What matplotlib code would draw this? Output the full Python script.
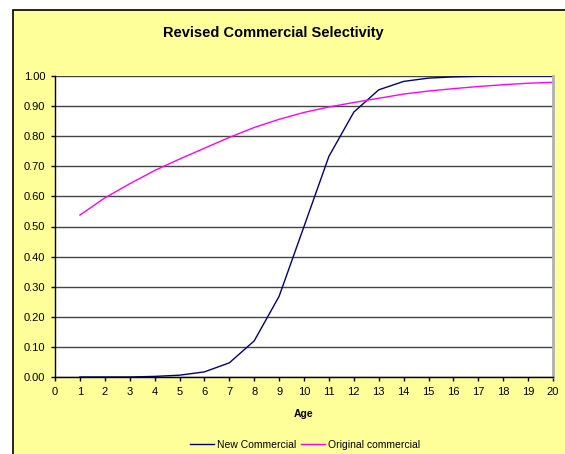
import matplotlib
matplotlib.use("Agg")
import matplotlib.pyplot as plt
from matplotlib.patches import Rectangle

plt.rcParams['font.family'] = ['Liberation Sans', 'DejaVu Sans']

ages = list(range(1, 21))
new_commercial = [0.0, 0.0, 0.0, 0.002, 0.006, 0.017, 0.047, 0.120, 0.268, 0.500,
                  0.733, 0.880, 0.954, 0.982, 0.993, 0.997, 0.999, 1.0, 1.0, 1.0]
original_commercial = [0.538, 0.595, 0.642, 0.686, 0.724, 0.760, 0.796, 0.829, 0.856, 0.879,
                       0.897, 0.912, 0.926, 0.940, 0.950, 0.958, 0.965, 0.971, 0.976, 0.979]
yticks = [i / 10 for i in range(11)]

W, H = 565, 454
fig = plt.figure(figsize=(W / 100, H / 100), dpi=100)
fig.patch.set_facecolor('white')

# yellow chart area with black border (runs off the right/bottom edges)
fig.patches.append(Rectangle((13 / W, -0.05), 1.1, (H - 10) / H + 0.05,
                             transform=fig.transFigure, facecolor='#FFFF99',
                             edgecolor='black', linewidth=1.2, zorder=-10))

ax = fig.add_axes([55 / W, (H - 377) / H, (553 - 55) / W, (377 - 76) / H])
ax.set_zorder(1)
ax.set_facecolor('white')

ax.plot(ages, new_commercial, color='#000080', lw=1.0, label='New Commercial')
ax.plot(ages, original_commercial, color='#FF00FF', lw=1.0, label='Original commercial')

ax.set_xlim(0, 20)
ax.set_ylim(0, 1.0)
ax.set_xticks(range(0, 21))
ax.set_yticks(yticks)
ax.set_yticklabels(['%.2f' % v for v in yticks])
ax.yaxis.grid(True, color='#444444', lw=1.0)
ax.set_axisbelow(True)
ax.tick_params(labelsize=8, length=3, width=1, color='black', pad=4)

for s in ['left', 'bottom']:
    ax.spines[s].set_color('black')
    ax.spines[s].set_linewidth(1.0)
ax.spines['top'].set_visible(False)
ax.spines['right'].set_color('#b0b0b0')
ax.spines['right'].set_linewidth(2.0)

ax.set_xlabel('Age', fontsize=7.5, fontweight='bold', labelpad=9)
fig.text(273 / W, 1 - 33 / H, 'Revised Commercial Selectivity', ha='center', va='center',
         fontsize=10.5, fontweight='bold')

fig.legend(loc='center', bbox_to_anchor=(305 / W, 1 - 445 / H), ncol=2, frameon=False,
           fontsize=7.5, handlelength=2.3, handletextpad=0.3, columnspacing=0.5)

fig.savefig('out.png', dpi=100)
